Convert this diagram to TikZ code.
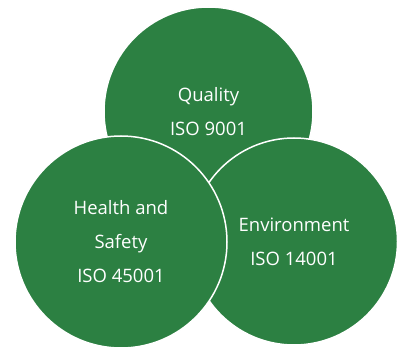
\documentclass[tikz,border=0pt]{standalone}
\usepackage{fontspec}
\setsansfont{Open Sans}
\usepackage{tikz}
\usetikzlibrary{positioning}
\definecolor{isogreen}{RGB}{44,128,66}

\begin{document}
\begin{tikzpicture}[x=1pt, y=-1pt, isotext/.style = {align=center, inner sep=1pt, text centered, white, font=\sffamily\fontsize{18.5}{34}\selectfont}, isocircle/.style = {isotext, circle, fill=isogreen, draw=white, line width=1.5pt, minimum size=#1}]
      \fill[white] (0,0) rectangle (398,347);
      \useasboundingbox (0,0) rectangle (398,347);

      \node [isocircle=209pt] (nodequal) at (208.5,111.5) {Quality\\ISO 9001};
      \node [isocircle=207pt] (nodeenv) at (294,241.5) {Environment\\ISO 14001};
      \node [isocircle=212pt] (nodehealth) at (121,242) {Health and\\Safety\\ISO 45001};

      \end{tikzpicture}
\end{document}
